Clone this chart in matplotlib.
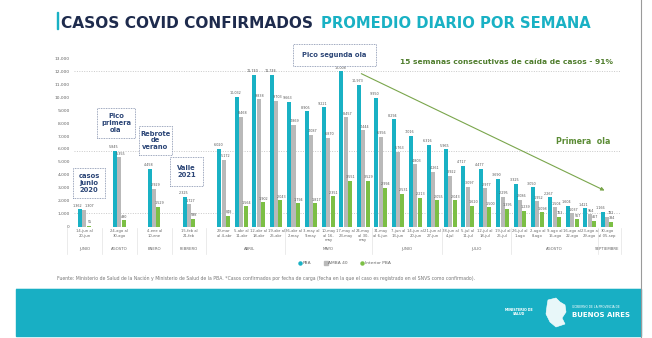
import matplotlib
matplotlib.use("Agg")
import matplotlib.pyplot as plt
import matplotlib.patches as mpatches
import matplotlib.transforms as mtransforms
from matplotlib.lines import Line2D
from matplotlib import font_manager

semanas = ["14-jun al\n20-jun", "24-ago al\n30-ago", "4-ene al\n10-ene", "15-feb al\n21-feb",
           "29-mar\nal 4-abr", "5-abr al\n11-abr", "12-abr al\n18-abr", "19-abr al\n25-abr",
           "26-abr al\n2-may", "3-may al\n9-may", "10-may\nal 16-\nmay", "17-may al\n23-may",
           "24-may\nal 30-\nmay", "31-may\nal 6-jun", "7-jun al\n13-jun", "14-jun al\n20-jun",
           "21-jun al\n27-jun", "28-jun al\n4-jul", "5-jul al\n11-jul", "12-jul al\n18-jul",
           "19-jul al\n25-jul", "26-jul al\n1-ago", "2-ago al\n8-ago", "9-ago al\n15-ago",
           "16-ago al\n22-ago", "23-ago al\n29-ago", "30-ago\nal 05-sep"]

pba = [1362, 5845, 4458, 2325, 6020, 10032, 11740, 11746, 9663, 8905, 9221, 12008, 10973,
       9950, 8294, 7016, 6316, 5965, 4717, 4477, 3690, 3325, 3050, 2267, 1604, 1421, 1166]
amba = [1307, 5355, 2929, 1727, 5172, 8468, 9838, 9703, 7869, 7087, 6870, 8457, 7444,
        6956, 5763, 4803, 4261, 3922, 3097, 2977, 2295, 2086, 1952, 1504, 1037, 954, 782]
interior = [55, 490, 1529, 598, 848, 1564, 1902, 2043, 1794, 1817, 2351, 3551, 3529,
            2994, 2531, 2213, 2055, 2043, 1620, 1500, 1395, 1239, 1098, 763, 567, 467, 384]

meses = ["JUNIO", "AGOSTO", "ENERO", "FEBRERO", "ABRIL", "MAYO", "JUNIO", "JULIO", "AGOSTO", "SEPTIEMBRE"]
semanas_por_mes = [1, 1, 1, 1, 4, 5, 4, 4, 5, 1]

TEAL = "#19b1c4"
GRIS = "#b9b9b9"
VERDE = "#7cbf45"
NAVY = "#1e2b4d"
AZUL_BOX = "#2c4677"

W, H = 652, 338
fig = plt.figure(figsize=(W / 100, H / 100), dpi=100)
fig.patch.set_facecolor("white")


def px(x, y):
    return x / W, 1 - y / H


def ajustar(t, ancho):
    r = fig.canvas.get_renderer()
    w = t.get_window_extent(r).width
    t.set_fontsize(t.get_fontsize() * ancho / w)


nombres = {f.name for f in font_manager.fontManager.ttflist}
angosta = "Liberation Sans Narrow" if "Liberation Sans Narrow" in nombres else "DejaVu Sans"

# eje principal
ax = fig.add_axes([74 / W, 1 - 226.7 / H, 547 / W, 168.4 / H])
x = [2 * i if i < 5 else i + 4 for i in range(len(pba))]
off = 0.25
ax.bar([v - off for v in x], pba, width=0.23, color=TEAL, zorder=3)
ax.bar(x, amba, width=0.23, color=GRIS, zorder=3)
ax.bar([v + off for v in x], interior, width=0.23, color=VERDE, zorder=3)

# etiquetas de valor (corridas un poco hacia afuera para que no se pisen)
for i, xi in enumerate(x):
    cerca = abs(pba[i] - amba[i]) < 400
    if cerca:
        ax.text(xi - 0.1, pba[i] + 120, f"{pba[i]:,}", ha="right", va="bottom", fontsize=2.4, color="#555555", zorder=4)
        ax.text(xi + 0.02, amba[i] + 120, f"{amba[i]:,}", ha="left", va="bottom", fontsize=2.4, color="#555555", zorder=4)
    else:
        ax.text(xi - off - 0.08, pba[i] + 120, f"{pba[i]:,}", ha="center", va="bottom", fontsize=2.4, color="#555555", zorder=4)
        ax.text(xi + 0.08, amba[i] + 120, f"{amba[i]:,}", ha="center", va="bottom", fontsize=2.4, color="#555555", zorder=4)
    ax.text(xi + off + 0.05, interior[i] + 120, f"{interior[i]:,}", ha="center", va="bottom", fontsize=2.4,
            color="#555555", zorder=4)

ax.set_xlim(-0.6, 30.8)
ax.set_ylim(0, 13000)
ax.set_yticks(range(0, 13001, 1000))
ax.set_yticklabels([f"{v:,}" for v in range(0, 13001, 1000)])
ax.set_xticks(x)
ax.set_xticklabels(semanas, linespacing=1.1)
ax.tick_params(axis="y", length=0, labelsize=3.2, labelcolor="#666666", pad=3)
ax.tick_params(axis="x", length=0, labelsize=2.7, labelcolor="#666666", pad=2)
for s in ax.spines.values():
    s.set_visible(False)

# lineas de referencia
for ref in (max(pba), pba[1], 1050):
    ax.axhline(ref, color="#c9c9c9", lw=0.7, ls=(0, (1, 1.5)), zorder=1)

# meses y separadores
trans = mtransforms.blended_transform_factory(ax.transData, ax.transAxes)
i0 = 0
bordes = []
for mes, n in zip(meses, semanas_por_mes):
    centro = (x[i0] + x[i0 + n - 1]) / 2
    ax.text(centro, -0.132, mes, transform=trans, ha="center", va="center", fontsize=2.8, color="#666666")
    if i0 > 0:
        bordes.append((x[i0 - 1] + x[i0]) / 2)
    i0 += n
bordes = [x[0] - 1] + bordes + [x[-1] + 0.8]
for b in bordes:
    ax.plot([b, b], [-0.005, -0.16], transform=trans, color="#e3e3e3", lw=0.5, clip_on=False)

# flecha de caida
ipico = pba.index(max(pba))
ax.annotate("", xy=(x[-1], 2700), xytext=(x[ipico] + 0.75, max(pba) - 100),
            arrowprops=dict(arrowstyle="-|>", color="#7aa64c", lw=0.8, mutation_scale=5), zorder=5)

# titulo
fig.add_artist(mpatches.Rectangle(px(56.5, 29), 1.6 / W, 17 / H, color=TEAL, transform=fig.transFigure))
t1 = fig.text(*px(61, 28), "CASOS COVID CONFIRMADOS", fontsize=14, fontweight="bold", color=NAVY,
              family=angosta, va="baseline")
ajustar(t1, 254)
t2 = fig.text(*px(321, 28), "PROMEDIO DIARIO POR SEMANA", fontsize=14, fontweight="bold", color=TEAL,
              family=angosta, va="baseline")
ajustar(t2, 270)

# cajas de anotacion
cajas = [("casos\njunio\n2020", 73, 168, 105, 198),
         ("Pico\nprimera\nola", 97, 108, 135, 138),
         ("Rebrote\nde\nverano", 139, 126, 172, 155),
         ("Valle\n2021", 170, 157, 203, 186),
         ("Pico segunda ola", 293, 44, 376, 66)]
for txt, x0, y0, x1, y1 in cajas:
    fig.add_artist(mpatches.Rectangle(px(x0, y1), (x1 - x0) / W, (y1 - y0) / H, transform=fig.transFigure,
                                      facecolor="white", edgecolor="#7d8aa8", lw=0.6, ls=(0, (1, 1)), zorder=6))
    fig.text(*px((x0 + x1) / 2, (y0 + y1) / 2), txt, ha="center", va="center", fontsize=4.9,
             color=AZUL_BOX, fontweight="semibold", linespacing=1.15, zorder=7)

t3 = fig.text(*px(400, 62), "15 semanas consecutivas de caída de casos - 91%", fontsize=6,
              fontweight="bold", color="#4f7d2d", va="center")
ajustar(t3, 212)
t4 = fig.text(*px(556, 142), "Primera  ola", fontsize=6.5, fontweight="bold", color="#5b8c35", va="center")
ajustar(t4, 54)

# leyenda
h = [Line2D([], [], marker="o", ls="", color=TEAL, markersize=2.2, label="PBA"),
     Line2D([], [], marker="s", ls="", color=GRIS, markersize=2.2, label="AMBA 40"),
     Line2D([], [], marker="o", ls="", color=VERDE, markersize=2.2, label="Interior PBA")]
fig.legend(handles=h, loc="center", bbox_to_anchor=px(345, 263), ncol=3, fontsize=3.2, frameon=False,
           handlelength=0.5, handletextpad=0.3, columnspacing=3, labelcolor="#666666")

t5 = fig.text(*px(57, 278), "Fuente: Ministerio de Salud de la Nación y Ministerio de Salud de la PBA. "
              "*Casos confirmados por fecha de carga (fecha en la que el caso es registrado en el SNVS como confirmado).",
              fontsize=3, color="#777777", va="center")
ajustar(t5, 414)

# franja inferior
fig.add_artist(mpatches.Rectangle(px(16, 336), 625 / W, 47 / H, color="#18afc4", transform=fig.transFigure))
fig.add_artist(Line2D([16 / W, 641 / W], [1 - 287.5 / H] * 2, color="#bfe8ee", lw=0.6))
fig.add_artist(Line2D([641 / W, 641 / W], [0, 1], color="#9a9a9a", lw=0.8))
fig.text(*px(519, 312), "MINISTERIO DE\nSALUD", ha="center", va="center", fontsize=2.4, color="white",
         fontweight="bold", linespacing=1.1)
mapa = [(548, 300), (556, 298), (560, 302), (565, 305), (566, 312), (562, 318), (565, 324),
        (556, 327), (550, 322), (546, 314), (547, 306)]
fig.add_artist(mpatches.Polygon([px(a, b) for a, b in mapa], closed=True, transform=fig.transFigure,
                                facecolor="#e8f7f9", edgecolor="white", lw=0.4))
fig.text(*px(572, 307), "GOBIERNO DE LA PROVINCIA DE", fontsize=2.2, color="white", va="center")
t6 = fig.text(*px(572, 315), "BUENOS AIRES", fontsize=6, color="white", fontweight="bold", va="center")
ajustar(t6, 58)

fig.savefig("out.png", dpi=100)
